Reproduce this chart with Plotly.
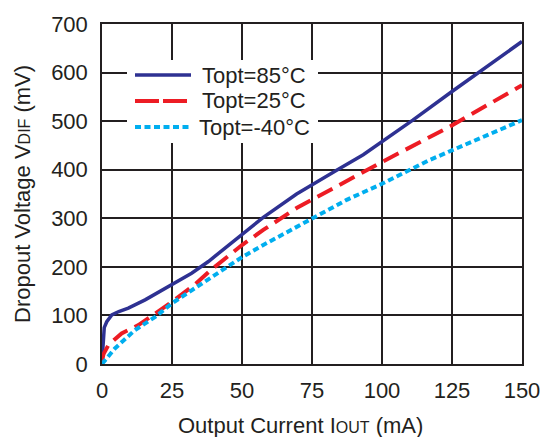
import plotly.graph_objects as go

# Data
x_85 = [0, 0.3, 0.8, 1.7, 3.5, 6, 9.4, 15.4, 25, 32, 38, 50, 57.6, 69.5, 75.5, 83.8, 93.3, 100, 111, 125, 150]
y_85 = [5, 40, 75, 87, 101, 108, 115, 132, 163, 187, 211, 268, 302, 350, 371, 399, 431, 458, 502, 561, 664]

x_25 = [0, 0.5, 2.3, 7, 13, 19, 25, 33, 39, 50, 57.6, 69.5, 81.4, 93.3, 100, 124.3, 150]
y_25 = [5, 20, 39, 63, 80, 104, 128, 163, 194, 245, 276, 321, 358, 393, 416, 489, 574]

x_m40 = [0, 4.6, 11.8, 19, 25, 33, 40, 50, 57.6, 75, 87.4, 100, 117, 150]
y_m40 = [0, 32, 70, 97, 125, 156, 183, 220, 245, 300, 338, 371, 420, 502]

series_names = ["Topt=85°C", "Topt=25°C", "Topt=-40°C"]
colors = ["#2E3192", "#ED1C24", "#00AEEF"]
widths = [3.5, 4, 4]
dashes = ["solid", "17px,8px", "6px,3.5px"]
leg_dashes = ["solid", "24px,4px", "6px,3.5px"]

x_ticks = [0, 25, 50, 75, 100, 125, 150]
y_ticks = [0, 100, 200, 300, 400, 500, 600, 700]

FONT = "Liberation Sans, Arial, sans-serif"
TXT = "#231F20"

L, R, T, B = 102, 522, 24, 364  # plot area in px
W, H = 544, 437


def px_x(p):
    return (p - L) / (R - L)


def px_y(p):
    return (B - p) / (B - T)


fig = go.Figure()
for xs, ys, nm, c, w, d in zip([x_85, x_25, x_m40], [y_85, y_25, y_m40], series_names, colors, widths, dashes):
    fig.add_trace(go.Scatter(x=xs, y=ys, mode="lines", name=nm,
                             line=dict(color=c, width=w, dash=d),
                             showlegend=False))

# Manual legend (white box covering the grid)
fig.add_shape(type="rect", xref="paper", yref="paper",
              x0=px_x(127), x1=px_x(318), y0=px_y(143), y1=px_y(60),
              fillcolor="white", line=dict(width=0), layer="above")
leg_y = [75, 101, 127]
leg_tx = [200, 200, 197]
for i, (nm, c, w, d) in enumerate(zip(series_names, colors, widths, leg_dashes)):
    yp = px_y(leg_y[i])
    fig.add_shape(type="line", xref="paper", yref="paper",
                  x0=px_x(135), x1=px_x(191), y0=yp, y1=yp,
                  line=dict(color=c, width=w, dash=d), layer="above")
    fig.add_annotation(xref="paper", yref="paper", x=px_x(leg_tx[i]),
                       y=yp, text=nm, showarrow=False, xanchor="left", yanchor="middle",
                       font=dict(family=FONT, size=22, color=TXT))

# Axis titles
fig.add_annotation(xref="paper", yref="paper", x=px_x(300), y=px_y(425),
                   text="Output Current I<span style='font-size:16px'>OUT</span> (mA)",
                   showarrow=False, xanchor="center", yanchor="middle",
                   font=dict(family=FONT, size=22, color=TXT))
fig.add_annotation(xref="paper", yref="paper", x=px_x(22), y=px_y(194),
                   text="Dropout Voltage V<span style='font-size:16px'>DIF</span> (mV)",
                   showarrow=False, xanchor="center", yanchor="middle", textangle=-90,
                   font=dict(family=FONT, size=22, color=TXT))

fig.update_layout(
    width=W, height=H,
    margin=dict(l=L, r=W - R, t=T, b=H - B),
    paper_bgcolor="white", plot_bgcolor="white",
    font=dict(family=FONT, size=22, color=TXT),
)
fig.update_xaxes(range=[0, 150], tickvals=x_ticks, ticktext=[str(v) for v in x_ticks],
                 showgrid=True, gridcolor=TXT, gridwidth=1.5,
                 showline=True, linecolor=TXT, linewidth=1.5, mirror=True,
                 zeroline=False, ticks="", tickfont=dict(size=22),
                 ticklabelstandoff=6, automargin=False)
fig.update_yaxes(range=[0, 700], tickvals=y_ticks, ticktext=[str(v) for v in y_ticks],
                 showgrid=True, gridcolor=TXT, gridwidth=1.5,
                 showline=True, linecolor=TXT, linewidth=1.5, mirror=True,
                 zeroline=False, ticks="", tickfont=dict(size=22),
                 ticklabelstandoff=8, automargin=False)

fig.write_html("out.html", config={"displayModeBar": False},
               post_script="document.body.style.margin='0';document.body.style.overflow='hidden';")
